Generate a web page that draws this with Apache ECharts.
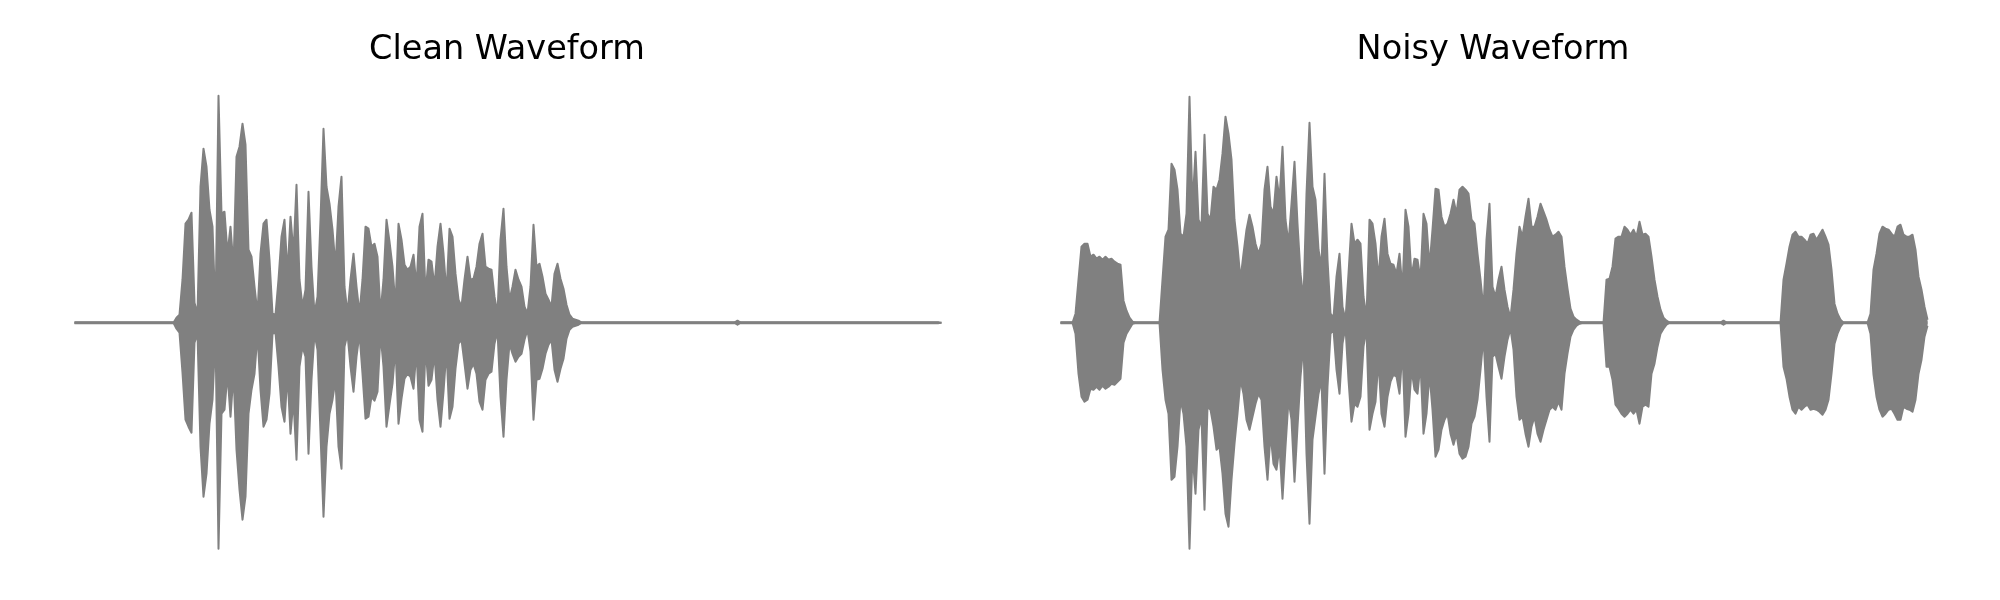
<!DOCTYPE html>
<html>
<head>
<meta charset="utf-8">
<script src="https://cdn.jsdelivr.net/npm/echarts@6/dist/echarts.min.js"></script>
<style>
html,body{margin:0;padding:0;background:#fff;}
#chart{width:2000px;height:600px;}
</style>
</head>
<body>
<div id="chart"></div>
<script>
// Panel titles
const titles = ['Clean Waveform', 'Noisy Waveform'];

// Waveform envelopes (amplitude, arbitrary units), one value per frame 0..289
const cleanUpper = [
0,0,0,0,0,0,0,0,0,0,
0,0,0,0,0,0,0,0,0,0,
0,0,0,0,0,0,0,0,0,0,
0,0,0,0,5,8,43,99,103,110,
20,9,136,174,156,113,96,9,227,109,
111,69,96,56,166,176,199,178,73,66,
36,9,69,99,103,63,9,8,43,86,
103,49,106,69,138,43,16,33,131,56,
9,26,103,194,136,119,93,56,116,146,
36,9,43,69,36,9,43,96,94,76,
79,66,9,43,103,81,56,16,99,83,
58,53,56,68,36,96,109,29,63,61,
36,76,99,69,29,94,86,49,23,16,
43,66,43,44,56,79,89,56,54,53,
26,9,83,114,56,23,36,53,43,36,
16,9,36,98,56,59,46,29,23,16,
49,59,44,34,18,8,4,3,2,0,
0,0,0,0,0,0,0,0,0,0,
0,0,0,0,0,0,0,0,0,0,
0,0,0,0,0,0,0,0,0,0,
0,0,0,0,0,0,0,0,0,0,
0,0,0,0,0,0,0,0,0,0,
0,2,0,0,0,0,0,0,0,0,
0,0,0,0,0,0,0,0,0,0,
0,0,0,0,0,0,0,0,0,0,
0,0,0,0,0,0,0,0,0,0,
0,0,0,0,0,0,0,0,0,0,
0,0,0,0,0,0,0,0,0,0,
0,0,0,0,0,0,0,0,0,0
];
const cleanLower = [
0,0,0,0,0,0,0,0,0,0,
0,0,0,0,0,0,0,0,0,0,
0,0,0,0,0,0,0,0,0,0,
0,0,0,0,-6,-10,-50,-97,-104,-110,
-20,-11,-124,-174,-151,-101,-77,-11,-226,-91,
-87,-51,-94,-51,-127,-167,-197,-174,-91,-67,
-51,-11,-67,-104,-97,-71,-11,-10,-44,-84,
-99,-51,-111,-77,-137,-44,-24,-34,-131,-57,
-11,-27,-111,-194,-124,-91,-77,-57,-124,-146,
-24,-11,-44,-69,-34,-11,-51,-96,-94,-74,
-78,-69,-11,-44,-104,-82,-61,-24,-101,-76,
-56,-51,-54,-66,-27,-97,-109,-24,-63,-57,
-31,-77,-104,-69,-27,-96,-84,-46,-21,-17,
-41,-66,-47,-41,-51,-79,-87,-57,-51,-49,
-21,-8,-74,-114,-57,-21,-31,-39,-34,-31,
-17,-7,-29,-97,-57,-56,-46,-31,-22,-17,
-47,-59,-46,-36,-16,-7,-4,-3,-2,0,
0,0,0,0,0,0,0,0,0,0,
0,0,0,0,0,0,0,0,0,0,
0,0,0,0,0,0,0,0,0,0,
0,0,0,0,0,0,0,0,0,0,
0,0,0,0,0,0,0,0,0,0,
0,-2,0,0,0,0,0,0,0,0,
0,0,0,0,0,0,0,0,0,0,
0,0,0,0,0,0,0,0,0,0,
0,0,0,0,0,0,0,0,0,0,
0,0,0,0,0,0,0,0,0,0,
0,0,0,0,0,0,0,0,0,0,
0,0,0,0,0,0,0,0,0,0
];
const noisyUpper = [
0,0,0,0,0,9,43,76,79,79,
66,68,64,66,63,66,63,64,61,59,
58,22,12,5,1,0,0,0,0,0,
0,0,0,0,43,86,93,159,153,133,
89,86,109,226,116,171,103,96,188,109,
103,136,133,143,169,206,189,163,103,76,
43,69,93,108,96,79,69,79,133,156,
116,109,146,123,176,103,79,119,161,99,
49,23,129,200,136,123,73,56,149,63,
9,5,46,69,16,3,49,99,79,83,
79,26,5,103,99,79,43,86,104,69,
59,58,49,69,33,113,96,46,64,63,
43,109,99,56,93,134,133,106,96,99,
109,123,109,133,136,133,129,103,99,69,
43,13,83,119,36,26,43,56,33,16,
5,33,69,96,86,106,124,96,96,106,
119,111,103,93,86,88,91,86,56,34,
14,6,3,1,0,0,0,0,0,0,
0,0,43,44,56,84,86,86,96,93,
88,93,86,101,88,89,86,66,43,26,
13,5,2,0,0,0,0,0,0,0,
0,0,0,0,0,0,0,0,0,0,
0,2,0,0,0,0,0,0,0,0,
0,0,0,0,0,0,0,0,0,0,
0,43,59,76,88,91,86,86,83,79,
88,89,83,88,93,86,78,53,19,9,
3,0,0,0,0,0,0,0,0,0,
9,53,69,89,96,94,93,89,86,96,
98,88,86,86,88,73,46,33,16,3
];
const noisyLower = [
0,0,0,0,0,-11,-51,-74,-79,-77,
-66,-67,-64,-67,-63,-66,-64,-61,-62,-59,
-56,-20,-11,-6,-1,0,0,0,0,0,
0,0,0,0,-47,-77,-91,-157,-154,-124,
-77,-91,-124,-226,-131,-171,-107,-94,-187,-84,
-87,-104,-127,-124,-151,-191,-204,-157,-121,-91,
-57,-71,-97,-107,-94,-81,-71,-77,-124,-157,
-111,-141,-147,-124,-176,-124,-77,-97,-159,-104,
-54,-21,-131,-201,-117,-94,-71,-57,-151,-64,
-11,-7,-47,-71,-21,-4,-57,-99,-81,-84,
-74,-24,-6,-107,-91,-79,-37,-91,-104,-74,
-59,-52,-54,-71,-27,-114,-91,-47,-67,-71,
-41,-111,-91,-51,-87,-134,-127,-107,-97,-91,
-111,-122,-111,-131,-136,-134,-124,-101,-94,-77,
-47,-14,-74,-119,-34,-31,-44,-56,-34,-17,
-6,-27,-74,-97,-94,-111,-124,-104,-94,-111,
-119,-107,-97,-87,-84,-87,-79,-87,-51,-31,
-14,-7,-3,-1,0,0,0,0,0,0,
0,0,-44,-44,-57,-82,-86,-91,-94,-91,
-87,-91,-87,-101,-84,-82,-84,-51,-41,-24,
-11,-6,-2,0,0,0,0,0,0,0,
0,0,0,0,0,0,0,0,0,0,
0,-2,0,0,0,0,0,0,0,0,
0,0,0,0,0,0,0,0,0,0,
0,-44,-56,-74,-87,-91,-84,-87,-84,-82,
-87,-86,-87,-89,-92,-87,-77,-51,-21,-11,
-4,0,0,0,0,0,0,0,0,0,
-11,-52,-74,-87,-94,-91,-87,-86,-91,-97,
-97,-84,-86,-87,-89,-77,-51,-37,-14,-3
];

const GRAY = '#808080';
const chart = echarts.init(document.getElementById('chart'), null, {renderer: 'canvas'});

// upper envelope fills down to just below zero, lower envelope up to just above,
// so that the two halves overlap and silent parts show as a 3px baseline
function envSeries(arr, idx, origin) {
  return {
    type: 'line',
    xAxisIndex: idx, yAxisIndex: idx,
    data: arr.map((v, i) => [i, v]),
    symbol: 'none',
    silent: true,
    animation: false,
    lineStyle: {color: GRAY, width: 2, cap: 'butt', join: 'round'},
    areaStyle: {color: GRAY, opacity: 1, origin: origin}
  };
}

const nFrames = cleanUpper.length - 1;
const gridBox = {top: 82.7, height: 480, width: 867};
const titleStyle = {fontFamily: 'DejaVu Sans', fontSize: 33.5, fontWeight: 'normal', color: '#000'};

chart.setOption({
  backgroundColor: '#ffffff',
  animation: false,
  title: [
    {text: titles[0], left: 507, top: 33, textAlign: 'center', padding: 0, textStyle: titleStyle},
    {text: titles[1], left: 1493, top: 33, textAlign: 'center', padding: 0, textStyle: titleStyle}
  ],
  grid: [
    Object.assign({left: 74.5}, gridBox),
    Object.assign({left: 1060.5}, gridBox)
  ],
  xAxis: [0, 1].map(i => ({type: 'value', gridIndex: i, min: 0, max: nFrames, show: false})),
  yAxis: [0, 1].map(i => ({type: 'value', gridIndex: i, min: -240, max: 240, show: false})),
  series: [
    envSeries(cleanUpper, 0, -1.5), envSeries(cleanLower, 0, 1.5),
    envSeries(noisyUpper, 1, -1.5), envSeries(noisyLower, 1, 1.5)
  ]
});
</script>
</body>
</html>
